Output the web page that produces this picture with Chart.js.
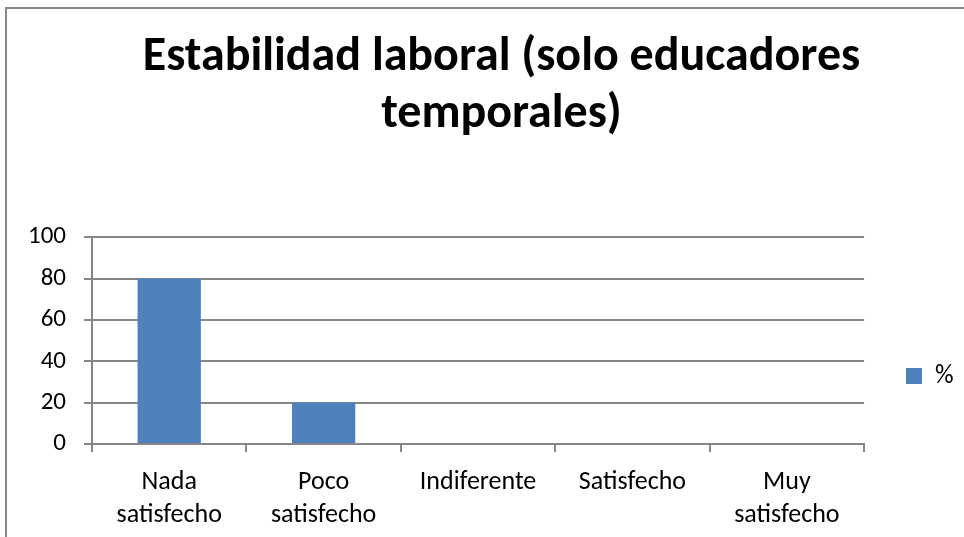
<!DOCTYPE html>
<html>
<head>
<meta charset="utf-8">
<script src="https://cdn.jsdelivr.net/npm/chart.js@4.4.1/dist/chart.umd.min.js"></script>
<style>
  html, body { margin: 0; padding: 0; background: #fff; overflow: hidden; width: 964px; height: 537px; }
  #frame { position: absolute; left: 5px; top: 7px; width: 1000px; height: 600px; border: 2px solid #868686; }
  #graphe { position: absolute; left: 0; top: 0; }
</style>
</head>
<body>
<div id="frame"></div>
<!-- el marco del grafico sigue a la derecha fuera de la ventana -->
<canvas id="graphe" width="993" height="537"></canvas>
<script>
// Datos
var V_categorias = [['Nada', 'satisfecho'], ['Poco', 'satisfecho'], 'Indiferente', 'Satisfecho', ['Muy', 'satisfecho']];
var V_porcentaje = [80, 20, 0, 0, 0];
var V_titulo = ['Estabilidad laboral (solo educadores', 'temporales)'];
var S_serie = '%';

var S_fuente = 'Carlito, "Open Sans", sans-serif';
var S_gris = '#868686';

var O_ctx = document.getElementById('graphe').getContext('2d');

// Leyenda: texto con espacios al final para que ocupe el ancho del original
function F_leyenda(O_chart){
    var V_items = Chart.defaults.plugins.legend.labels.generateLabels(O_chart);
    V_items.forEach(function(O_item){ O_item.text = O_item.text + '     '; });
    return V_items;
}

var O_graphe = new Chart(O_ctx, {
    type: 'bar',
    data: {
        labels: V_categorias,
        datasets: [{
            label: S_serie,
            data: V_porcentaje,
            backgroundColor: '#4F81BD',
            borderWidth: 0,
            categoryPercentage: 1,
            barPercentage: 0.41
        }]
    },
    options: {
        responsive: false,
        animation: false,
        devicePixelRatio: 1,
        layout: { padding: { left: 10, right: 0, top: 0, bottom: -9 } },
        plugins: {
            title: {
                display: true,
                text: V_titulo,
                color: '#000',
                font: { family: S_fuente, size: 48, weight: 'bold', lineHeight: 1.19 },
                padding: { top: 29, bottom: 94 }
            },
            legend: {
                position: 'right',
                align: 'center',
                // titulo vacio para bajar la leyenda como en el original
                title: { display: true, text: ' ', font: { size: 10, lineHeight: 1 }, padding: { top: 0, bottom: 196 } },
                labels: {
                    color: '#000',
                    font: { family: S_fuente, size: 26 },
                    boxWidth: 16,
                    boxHeight: 16,
                    padding: 42,
                    generateLabels: F_leyenda
                }
            },
            tooltip: { enabled: false }
        },
        scales: {
            x: {
                grid: { display: true, drawOnChartArea: false, color: S_gris, tickLength: 8, lineWidth: 2 },
                border: { display: true, color: S_gris, width: 2 },
                ticks: { color: '#000', font: { family: S_fuente, size: 26, lineHeight: 1.27 }, padding: 14, maxRotation: 0 }
            },
            y: {
                min: 0,
                max: 100,
                grid: { color: S_gris, tickLength: 8, lineWidth: 2 },
                border: { display: true, color: S_gris, width: 2 },
                ticks: { stepSize: 20, color: '#000', font: { family: S_fuente, size: 25 }, padding: 18 }
            }
        }
    }
});
</script>
</body>
</html>
